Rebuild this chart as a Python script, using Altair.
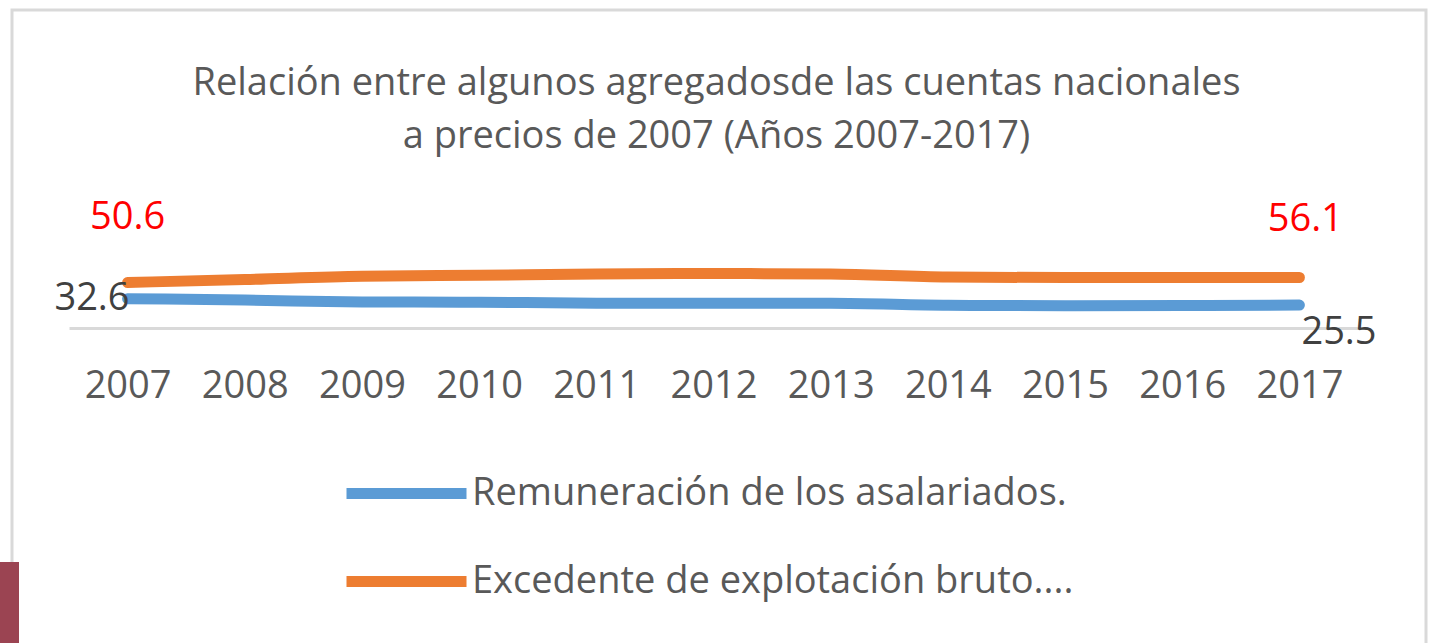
import altair as alt
import pandas as pd

years = [str(y) for y in range(2007, 2018)]
remuneracion = [32.6, 31.0, 29.0, 28.6, 27.6, 27.4, 27.4, 25.2, 24.8, 24.9, 25.5]
excedente = [50.6, 53.8, 57.5, 58.5, 60.0, 60.5, 60.0, 56.6, 56.0, 56.0, 56.1]
series_names = ["Remuneración de los asalariados.", "Excedente de explotación bruto...."]
series_colors = ["#5B9BD5", "#ED7D31"]

rows = []
for i, y in enumerate(years):
    rows.append({"year": y, "serie": series_names[0], "valor": remuneracion[i]})
    rows.append({"year": y, "serie": series_names[1], "valor": excedente[i]})
df = pd.DataFrame(rows)

FONT = "Open Sans"
GRAY = "#595959"

W, H = 1289, 144
PL, PT = 69, 184

x_enc = alt.X("year:N", sort=years,
              scale=alt.Scale(type="point", padding=0.5),
              axis=alt.Axis(title=None, labelAngle=0, ticks=False, grid=False,
                            domainColor="#d9d9d9", domainWidth=3,
                            labelFont=FONT, labelFontSize=38, labelColor=GRAY,
                            labelPadding=39))
y_enc = alt.Y("valor:Q", scale=alt.Scale(domain=[0, 150]), axis=None)

base = alt.Chart(df)

lines = base.mark_line(strokeWidth=11, interpolate="monotone", strokeCap="round").encode(
    x=x_enc, y=y_enc,
    color=alt.Color("serie:N",
                    scale=alt.Scale(domain=series_names, range=series_colors),
                    legend=alt.Legend(title=None, orient="none", legendX=272, legendY=244,
                                      symbolType="stroke", symbolSize=14400,
                                      symbolStrokeWidth=11, labelFont=FONT,
                                      labelFontSize=38, labelColor=GRAY, labelOffset=0,
                                      rowPadding=-32, labelLimit=900)),
)

def label(year, serie, color, align, dx, dy):
    return base.transform_filter(
        (alt.datum.year == year) & (alt.datum.serie == serie)
    ).mark_text(font=FONT, fontSize=38, color=color, align=align, dx=dx, dy=dy,
                baseline="middle").encode(
        x=alt.X("year:N", sort=years), y="valor:Q",
        text=alt.Text("valor:Q", format=".1f"))

lab1 = label("2007", series_names[1], "#FF0000", "center", 0, -64)
lab2 = label("2017", series_names[1], "#FF0000", "center", 6, -58)
lab3 = label("2007", series_names[0], "#404040", "right", 2, 0)
lab4 = label("2017", series_names[0], "#404040", "left", 2, 28)

deco = pd.DataFrame({"k": [0]})
border = alt.Chart(deco).mark_rect(fill=None, stroke="#d9d9d9", strokeWidth=3).encode(
    x=alt.value(12 - PL), x2=alt.value(1426 - PL),
    y=alt.value(10 - PT), y2=alt.value(700 - PT))
tab = alt.Chart(deco).mark_rect(color="#9B4452").encode(
    x=alt.value(0 - PL), x2=alt.value(19 - PL),
    y=alt.value(562 - PT), y2=alt.value(660 - PT))

chart = alt.layer(border, tab, lines, lab1, lab2, lab3, lab4).properties(
    width=W, height=H,
    background="white",
    title=alt.Title(["Relación entre algunos agregadosde las cuentas nacionales",
                     "a precios de 2007 (Años 2007-2017)"],
                    font=FONT, fontSize=38, fontWeight="normal", color=GRAY,
                    lineHeight=53, offset=-147, anchor="middle", dx=3),
    padding={"left": PL, "top": PT, "right": 1430 - PL - W, "bottom": 643 - PT - H},
    autosize=alt.AutoSizeParams(type="none"),
).configure_view(stroke="transparent", strokeWidth=0)

chart.save("out.html", embed_options={"renderer": "svg", "actions": False})
